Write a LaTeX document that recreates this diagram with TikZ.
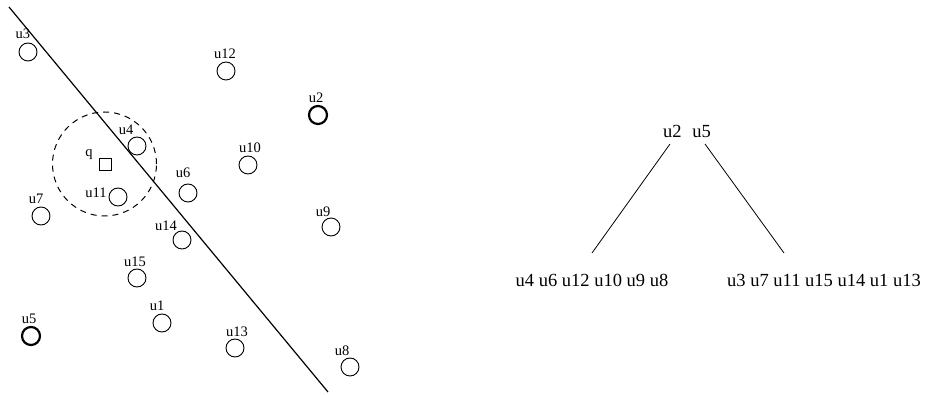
\documentclass[tikz,border=0pt]{standalone}
\usepackage{fontspec}
\setmainfont{Liberation Serif}
\begin{document}
\begin{tikzpicture}[x=1pt,y=-1pt,
  pt/.style={circle,draw,minimum size=18pt,inner sep=0pt,line width=0.9pt},
  ptb/.style={pt,line width=2.2pt},
  lab/.style={inner sep=0pt,font=\fontsize{14.5}{16}\selectfont},
  tlab/.style={inner sep=0pt,font=\fontsize{18.5}{20}\selectfont},
  tline/.style={line width=0.8pt}]
\useasboundingbox (0,0) rectangle (927,395);
% split line
\coordinate (s1) at (9,7);
\coordinate (s2) at (328,392);
\draw[line width=1.2pt] (s1) -- (s2);
% query range
\node[circle,draw,dashed,dash pattern=on 6pt off 5pt,line width=1pt,minimum size=104pt,inner sep=0pt] (rng) at (104.5,164) {};
\node[rectangle,draw,line width=1pt,minimum size=12pt,inner sep=0pt] (q) at (105,165) {};
\node[lab] (lq) at (89,155) {q};
% points
\node[pt] (u3) at (28,52) {};   \node[lab] (l3) at (23,34) {u3};
\node[pt] (u4) at (137,146) {};  \node[lab] (l4) at (126,130) {u4};
\node[pt] (u11) at (118,197) {}; \node[lab] (l11) at (96,193) {u11};
\node[pt] (u7) at (41,216) {};   \node[lab] (l7) at (36,199) {u7};
\node[pt] (u6) at (188,193) {};  \node[lab] (l6) at (183,173) {u6};
\node[pt] (u14) at (182,240) {}; \node[lab] (l14) at (166,226) {u14};
\node[pt] (u12) at (226,71) {};  \node[lab] (l12) at (225,54) {u12};
\node[ptb] (u2) at (318,115) {}; \node[lab] (l2) at (316,98) {u2};
\node[pt] (u10) at (248,165) {}; \node[lab] (l10) at (250,148) {u10};
\node[pt] (u9) at (331,227) {};  \node[lab] (l9) at (323,212) {u9};
\node[pt] (u15) at (137,278) {}; \node[lab] (l15) at (135,262) {u15};
\node[pt] (u1) at (162,323) {};  \node[lab] (l1) at (157,306) {u1};
\node[ptb] (u5) at (31,336) {};  \node[lab] (l5) at (29,319) {u5};
\node[pt] (u13) at (235,348) {}; \node[lab] (l13) at (237,332) {u13};
\node[pt] (u8) at (350,367) {};  \node[lab] (l8) at (342,351) {u8};
% tree
\node[tlab] (root) at (687,131) {u2\hspace{11pt}u5};
\node[tlab] (left) at (592,280) {u4 u6 u12 u10 u9 u8};
\node[tlab] (right) at (824,280) {u3 u7 u11 u15 u14 u1 u13};
\coordinate (a1) at (670,144); \coordinate (a2) at (592,253);
\coordinate (b1) at (705,144); \coordinate (b2) at (784,253);
\draw[tline] (a1) -- (a2);
\draw[tline] (b1) -- (b2);
\end{tikzpicture}
\end{document}
